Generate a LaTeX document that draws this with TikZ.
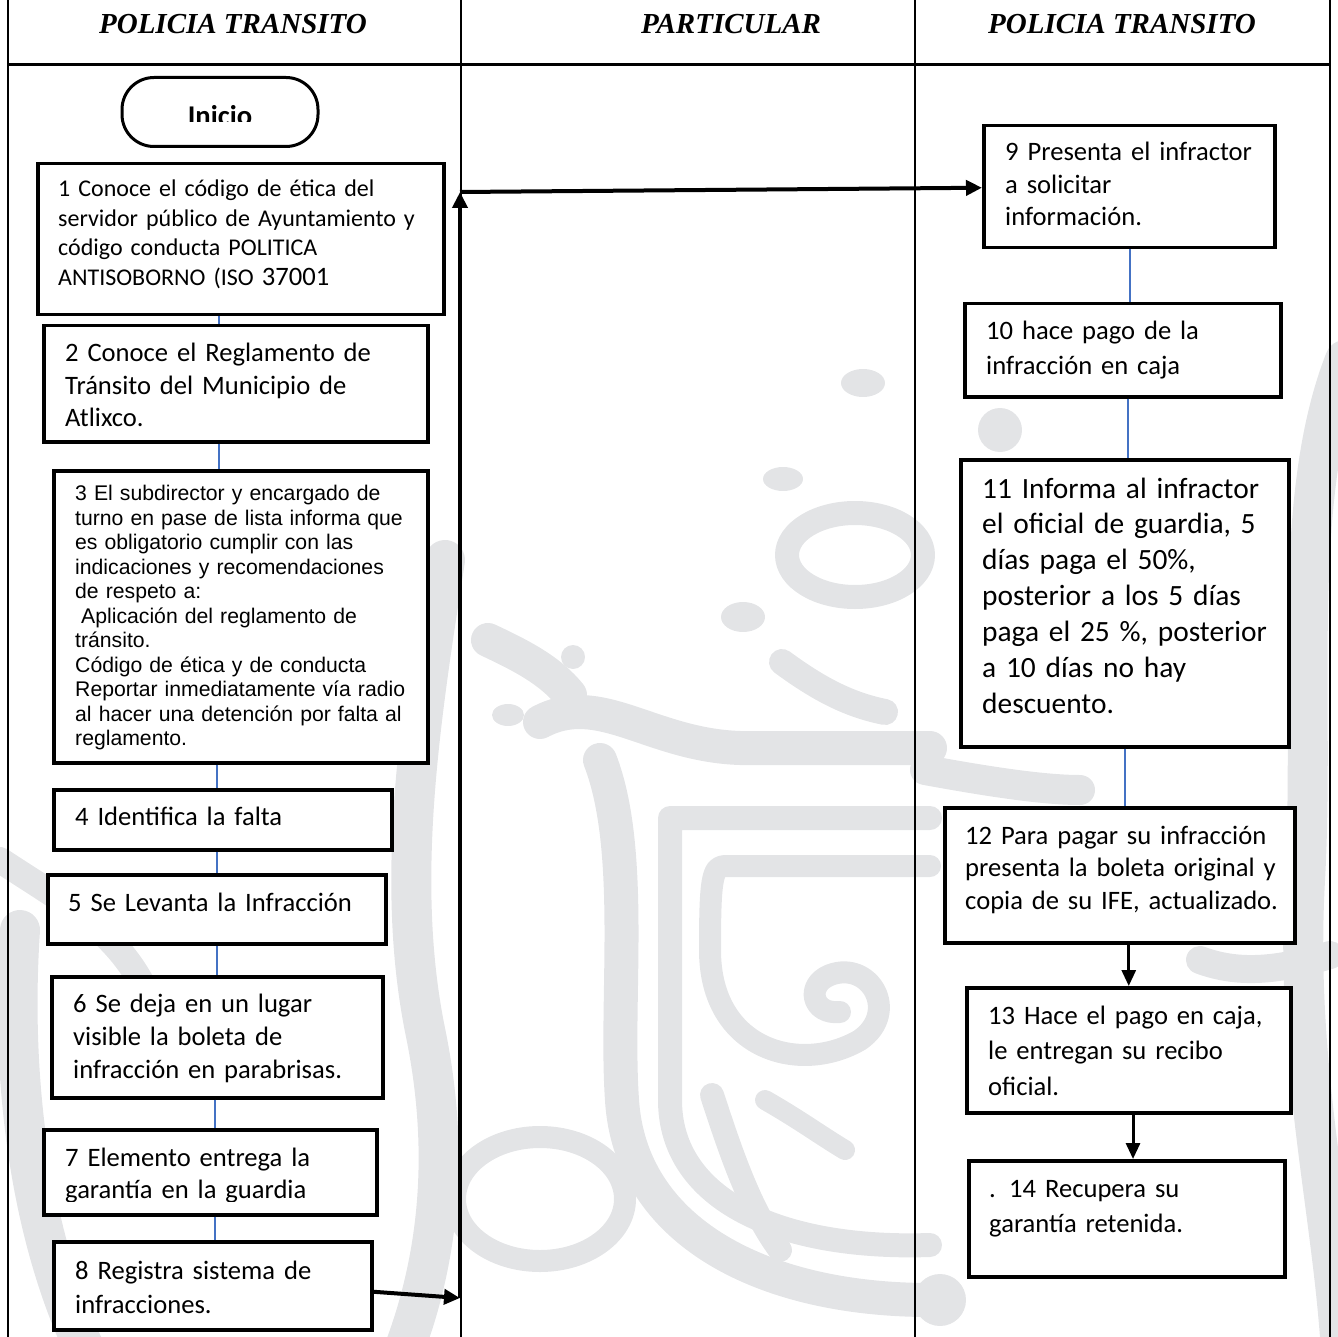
\documentclass[tikz,border=0pt]{standalone}
\usepackage{fontspec}
\setmainfont{Carlito}[WordSpace=0.66]
\newfontfamily\headfont{Liberation Serif}
\newfontfamily\arialfont{Liberation Sans}
\usetikzlibrary{arrows.meta}
\definecolor{connblue}{RGB}{68,114,196}
\definecolor{ornament}{RGB}{227,228,230}
% size / leading
\newcommand{\fsz}[2]{\fontsize{#1pt}{#2pt}\selectfont}
\begin{document}
\begin{tikzpicture}[x=1pt,y=-1pt,
  every node/.style={inner sep=0pt},
  lane/.style={line width=1.3pt},
  head/.style={anchor=base, font=\headfont\bfseries\itshape\fsz{29}{32}},
  box/.style={draw, line width=3.5pt, fill=white, anchor=north west},
  startbox/.style={draw, line width=3pt, fill=white, rounded corners=32pt, minimum width=196pt, minimum height=69pt},
  txt/.style={anchor=base west, align=left, text width=430pt, font=\fsz{26.6}{32.5}},
  flow/.style={draw=connblue, line width=1.1pt},
  bigarrow/.style={line width=4pt, -{Triangle[length=16pt,width=15pt]}},
  downarrow/.style={line width=3pt, -{Triangle[length=16pt,width=14pt]}},
  orn/.style={draw=ornament, line cap=round, line join=round},
  dot/.style={fill=ornament}
]
\useasboundingbox (0,0) rectangle (1338,1337);

% ---------- background ornament ----------
\begin{scope}
\clip (0,330) rectangle (1338,1337);
% centre lane
\draw[orn, line width=34pt] (488,640) .. controls (520,655) and (550,670) .. (570,695);
\fill[dot] (573,657) circle (12);
\fill[dot] (508,715) ellipse (16 and 11);
\draw[orn, line width=34pt] (540,722) .. controls (600,690) and (650,745) .. (740,748) -- (930,748);
\draw[orn, line width=34pt] (600,760) .. controls (635,850) and (615,1000) .. (622,1100) .. controls (630,1230) and (760,1300) .. (930,1300);
\draw[orn, line width=24pt] (930,818) -- (670,818) -- (670,1100) .. controls (670,1200) and (780,1250) .. (930,1245);
\draw[orn, line width=22pt] (930,866) -- (725,866) .. controls (712,866) and (710,880) .. (710,950) .. controls (710,1050) and (800,1075) .. (860,1040) .. controls (900,1012) and (870,960) .. (830,975) .. controls (805,985) and (812,1015) .. (840,1012);
\draw[orn, line width=24pt] (712,1095) .. controls (730,1150) and (750,1210) .. (780,1250);
\draw[orn, line width=20pt] (765,1100) .. controls (800,1120) and (820,1135) .. (845,1150);
\draw[orn, line width=22pt] (540,1199) ellipse (85 and 62);
\draw[orn, line width=24pt] (855,555) ellipse (68 and 42);
\fill[dot] (863,383) ellipse (22 and 14);
\fill[dot] (783,479) ellipse (20 and 12);
\fill[dot] (743,617) ellipse (22 and 15);
\draw[orn, line width=26pt] (782,662) .. controls (820,690) and (850,705) .. (885,712);
% left lane
\draw[orn, line width=40pt] (445,560) .. controls (420,720) and (395,880) .. (425,1030) .. controls (450,1150) and (440,1260) .. (400,1360);
\draw[orn, line width=40pt] (20,930) .. controls (10,1080) and (30,1240) .. (90,1360);
\draw[orn, line width=26pt] (0,860) .. controls (60,900) and (120,930) .. (150,1000);
% right lane
\draw[orn, line width=40pt] (1345,360) .. controls (1290,500) and (1315,700) .. (1305,880) .. controls (1295,1060) and (1330,1200) .. (1340,1337);
\draw[orn, line width=30pt] (925,770) .. controls (980,780) and (1040,790) .. (1080,790);
\draw[orn, line width=28pt] (1200,960) .. controls (1240,975) and (1280,970) .. (1330,955);
\fill[dot] (1000,430) circle (22);
\fill[dot] (940,1300) circle (26);
\end{scope}

% ---------- lanes ----------
\draw[lane] (8,0) -- (8,1337);
\draw[lane] (461,0) -- (461,1337);
\draw[lane] (915,0) -- (915,1337);
\draw[lane] (1330,0) -- (1330,1337);
\draw[line width=3pt] (8,65) -- (1330,65);

\node[head] (h1) at (233,34) {POLICIA TRANSITO};
\node[head] (h2) at (731,34) {PARTICULAR};
\node[head] (h3) at (1122,34) {POLICIA TRANSITO};

% ---------- start ----------
\node[startbox] (ini) at (220,112) {};
\begin{scope}
\clip (122,80) rectangle (318,122);
\node[anchor=base, font=\bfseries\fsz{28.6}{32}] (iniT) at (220,126) {Inicio};
\end{scope}

% ---------- boxes, left lane ----------
\node[box, minimum width=406pt, minimum height=151pt] (b1) at (36,162) {};
\node[box, minimum width=384pt, minimum height=116pt] (b2) at (42,324) {};
\node[box, minimum width=374pt, minimum height=292pt] (b3) at (52,469) {};
\node[box, minimum width=338pt, minimum height=60pt]  (b4) at (52,788) {};
\node[box, minimum width=338pt, minimum height=69pt]  (b5) at (46,873) {};
\node[box, minimum width=331pt, minimum height=121pt] (b6) at (50,975) {};
\node[box, minimum width=333pt, minimum height=85pt]  (b7) at (42,1128) {};
\node[box, minimum width=318pt, minimum height=88pt]  (b8) at (52,1240) {};

% ---------- boxes, right lane ----------
\node[box, minimum width=291pt, minimum height=122pt] (b9)  at (982,124) {};
\node[box, minimum width=316pt, minimum height=93pt]  (b10) at (963,302) {};
\node[box, minimum width=328pt, minimum height=287pt] (b11) at (959,458) {};
\node[box, minimum width=350pt, minimum height=135pt] (b12) at (943,806) {};
\node[box, minimum width=324pt, minimum height=125pt] (b13) at (965,986) {};
\node[box, minimum width=316pt, minimum height=116pt] (b14) at (967,1159) {};

% ---------- thin links ----------
\coordinate (cA) at (219,0);
\coordinate (cB) at (217,0);
\coordinate (cC) at (215,0);
\draw[flow] (b1.south -| cA) -- (b2.north -| cA);
\draw[flow] (b2.south -| cA) -- (b3.north -| cA);
\draw[flow] (b3.south -| cB) -- (b4.north -| cB);
\draw[flow] (b4.south -| cB) -- (b5.north -| cB);
\draw[flow] (b5.south -| cB) -- (b6.north -| cB);
\draw[flow] (b6.south -| cC) -- (b7.north -| cC);
\draw[flow] (b7.south -| cC) -- (b8.north -| cC);
\coordinate (rA) at (1130,0);
\coordinate (rB) at (1128,0);
\coordinate (rC) at (1125,0);
\draw[flow] (b9.south -| rA) -- (b10.north -| rA);
\draw[flow] (b10.south -| rB) -- (b11.north -| rB);
\draw[flow] (b11.south -| rC) -- (b12.north -| rC);

% ---------- arrows ----------
\coordinate (join) at (460,1298);
\coordinate (turn) at (460,192);
\draw[bigarrow] ([yshift=-6pt]b8.east) -- (join);
\draw[line width=4.5pt, -{Triangle[length=16pt,width=15pt]}] (join) -- (turn);
\draw[bigarrow] (turn) -- ([yshift=-1pt]b9.west);
\draw[downarrow] (b12.south -| b13.north) -- (b13.north);
\coordinate (c14) at (1133,0);
\draw[downarrow] (b13.south -| c14) -- (b14.north -| c14);

% ---------- texts, left lane ----------
\node[txt, font=\fsz{24}{29.5}] (t1) at (58,197) {1 Conoce el código de ética del\\servidor público de Ayuntamiento y\\código conducta POLITICA\\ANTISOBORNO (ISO {\fsz{26.6}{29.5}37001}};
\node[txt] (t2) at (65,362) {2 Conoce el Reglamento de\\Tránsito del Municipio de\\Atlixco.};
\begin{scope}
\clip (52,469) rectangle (426,749);
\node[txt, font=\arialfont\fsz{21.2}{24.5}] (t3) at (75,500.5) {3 El subdirector y encargado de\\turno en pase de lista informa que\\es obligatorio cumplir con las\\indicaciones y recomendaciones\\de respeto a:\\\hspace*{6pt}Aplicación del reglamento de\\tránsito.\\Código de ética y de conducta\\Reportar inmediatamente vía radio\\al hacer una detención por falta al\\reglamento.};
\end{scope}
\node[txt] (t4) at (75,825) {4 Identifica la falta};
\node[txt] (t5) at (68,911) {5 Se Levanta la Infracción};
\node[txt, font=\fsz{26.6}{33}] (t6) at (73,1012) {6 Se deja en un lugar\\visible la boleta de\\infracción en parabrisas.};
\begin{scope}
\clip (42,1128) rectangle (375,1201);
\node[txt, font=\fsz{26.6}{32}] (t7) at (65,1166) {7 Elemento entrega la\\garantía en la guardia};
\end{scope}
\node[txt, font=\fsz{26.6}{34}] (t8) at (75,1279) {8 Registra sistema de\\infracciones.};

% ---------- texts, right lane ----------
\node[txt] (t9) at (1005,161) {9 Presenta el infractor\\a solicitar\\información.};
\node[txt, font=\fsz{26.6}{35}] (t10) at (986,340) {10 hace pago de la\\infracción en caja};
\node[txt, font=\fsz{29.4}{35.9}] (t11) at (982,498) {11 Informa al infractor\\el oficial de guardia, 5\\días paga el 50\%,\\posterior a los 5 días\\paga el 25 \%, posterior\\a 10 días no hay\\descuento.};
\node[txt] (t12) at (965,844) {12 Para pagar su infracción\\presenta la boleta original y\\copia de su IFE, actualizado.};
\node[txt, font=\fsz{26.6}{35.5}] (t13) at (988,1024) {13 Hace el pago en caja,\\le entregan su recibo\\oficial.};
\node[txt, font=\fsz{26.6}{35}] (t14) at (989,1197) {. 14 Recupera su\\garantía retenida.};
\end{tikzpicture}
\end{document}
